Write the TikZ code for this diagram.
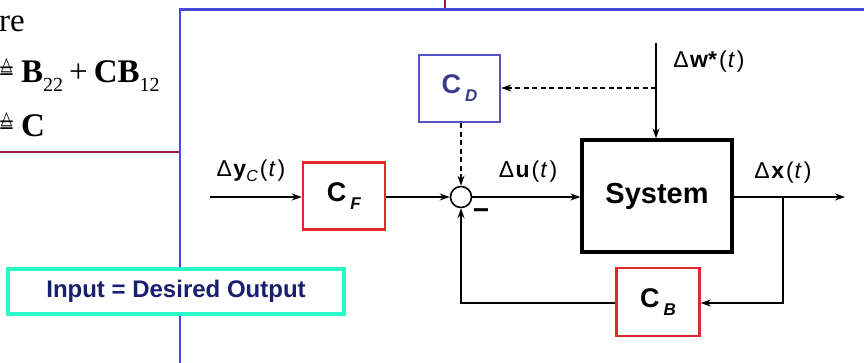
\documentclass[tikz,border=0pt]{standalone}
\usepackage{fontspec}
\setmainfont{Liberation Sans}
\newfontfamily\tms{Liberation Serif}
\newfontfamily\djv{DejaVu Sans}
\usetikzlibrary{arrows.meta}
\definecolor{frameblue}{RGB}{72,72,220}
\definecolor{linemaroon}{RGB}{150,30,60}
\definecolor{boxred}{RGB}{225,40,45}
\definecolor{cdblue}{RGB}{85,85,200}
\definecolor{cdtext}{RGB}{60,60,140}
\definecolor{aqualine}{RGB}{40,250,200}
\definecolor{navytext}{RGB}{25,30,110}
\newcommand{\Cblk}[1]{\fontsize{27}{27}\selectfont\textbf{C}\kern4pt\raisebox{-8pt}{\fontsize{17}{17}\selectfont\textbf{\textit{#1}}}}
\newcommand{\sg}[2]{Δ\kern1.5pt\textbf{#1}#2\kern2pt(\kern1pt\textit{t}\kern2pt)}
\newcommand{\deq}{\scalebox{0.78}[1]{\tms\fontsize{34}{36}\selectfont\ooalign{=\cr\hidewidth\raisebox{12pt}{\djv\fontsize{19}{19}\selectfont △}\hidewidth\cr}}}
\begin{document}
\begin{tikzpicture}[x=1pt,y=-1pt,
  blk/.style={draw, line width=2.4pt, minimum width=82pt, minimum height=67pt, inner sep=0pt, fill=white},
  sig/.style={line width=1.6pt, -{Stealth[length=10pt,width=7pt]}},
  dsig/.style={sig, dash pattern=on 5pt off 3.5pt},
  lab/.style={font=\fontsize{23}{26}\selectfont, inner sep=0pt},
  serif/.style={font=\tms\fontsize{33}{36}\selectfont, inner sep=0pt}]
\useasboundingbox (0,0) rectangle (864,363);
% frame lines
\draw[linemaroon, line width=2pt] (0,152) -- (180,152);
\draw[linemaroon, line width=2pt] (445,0) -- (445,9.5);
\draw[frameblue, line width=2.5pt] (180,380) -- (180,9.5) -- (880,9.5);
% top-left text
\node[serif, anchor=base west] (t1) at (-1,32) {re};
\node[anchor=base west, inner sep=0pt] (eq1) at (-1,83) {\deq};
\node[serif, anchor=base west] (t2) at (21,83) {\textbf{B}\raisebox{-9pt}{\fontsize{20}{20}\selectfont 22}\kern6pt+\kern6pt\textbf{CB}\raisebox{-9pt}{\fontsize{20}{20}\selectfont 12}};
\node[anchor=base west, inner sep=0pt] (eq2) at (-1,137) {\deq};
\node[serif, anchor=base west] (t3) at (21,137) {\textbf{C}};
% note box
\node[draw=aqualine, line width=3.5pt, fill=white, minimum width=336pt, minimum height=45pt, inner sep=0pt,
  font=\fontsize{24}{26}\selectfont\bfseries, text=navytext] (note) at (176,291.5) {Input = Desired Output};
% blocks
\node[blk, draw=boxred] (CF) at (344,196) {\Cblk{F}};
\node[blk, draw=cdblue, minimum width=81pt, text=cdtext] (CD) at (459.5,88.5) {\Cblk{D}};
\node[blk, draw=boxred, minimum width=83pt, minimum height=68pt] (CB) at (658,302) {\Cblk{B}};
\node[draw, line width=3.2pt, minimum width=150pt, minimum height=112pt, inner sep=0pt,
  font=\fontsize{29}{30}\selectfont\bfseries] (sys) at (657,196) {System};
\node[draw, circle, line width=1.6pt, minimum size=21pt, inner sep=0pt] (sum) at (461,197) {};
% coordinates
\coordinate (in) at (210,197);
\coordinate (out) at (845,197);
\coordinate (br) at (783,197);
\coordinate (fbr) at (783,303);
\coordinate (fbl) at (461,303);
\coordinate (wtop) at (656,43);
\coordinate (wd) at (656,88);
% connectors
\draw[sig] (in) -- (CF.west |- in);
\draw[sig] (CF.east |- in) -- (sum.west);
\draw[sig] (sum.east) -- (sys.west |- sum.east);
\draw[sig] (sys.east |- out) -- (out);
\draw[sig] (br) -- (fbr) -- (CB.east |- fbr);
\draw[sig] (CB.west |- fbl) -- (fbl) -- (sum.south);
\draw[sig] (wtop) -- (sys.north -| wtop);
\draw[dsig] (wd) -- (CD.east |- wd);
\draw[dsig] (CD.south -| sum) -- (sum.north);
% labels
\node[lab] (ly) at (251,171) {\sg{y}{\raisebox{-5pt}{\fontsize{16}{16}\selectfont\textit{C}}}};
\node[lab] (lu) at (528,172) {\sg{u}{}};
\node[lab] (lx) at (783,173) {\sg{x}{}};
\node[lab] (lw) at (709,62) {\sg{w}{\textbf{*}}};
\node[inner sep=0pt, font=\fontsize{28}{28}\selectfont\bfseries] (minus) at (481,214) {−};
\end{tikzpicture}
\end{document}
